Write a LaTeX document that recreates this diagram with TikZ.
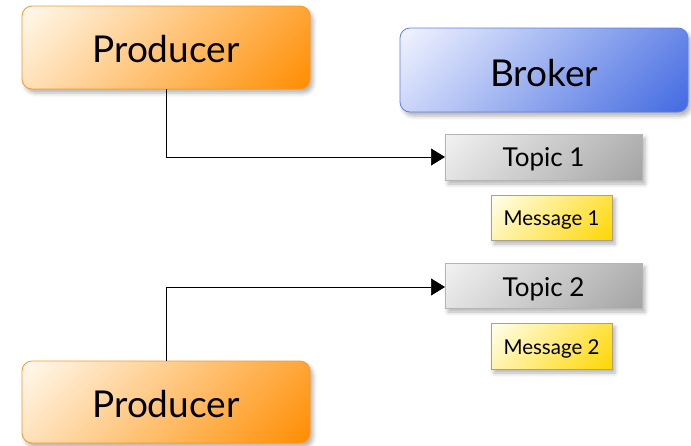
\documentclass[tikz,border=0pt]{standalone}
\usepackage{fontspec}
\setmainfont{Lato}
\usetikzlibrary{shadows.blur,arrows.meta}

\definecolor{prodline}{HTML}{F59A2A}
\definecolor{brokline}{HTML}{5F80E6}
\definecolor{topicline}{HTML}{B4B4B4}
\definecolor{msgline}{HTML}{A8A090}

% 45-degree gradients, light at the top left, full colour at the bottom
% right. Stack on entry: x y (bp); the box spans 25..75 in both; the
% weights on x and y follow the width and height of each kind of box.
\pgfdeclarefunctionalshading{prodshade}{\pgfpoint{0bp}{0bp}}{\pgfpoint{100bp}{100bp}}{}{
  75 exch sub 0.00448 mul exch 25 sub 0.01552 mul add
  dup 0 lt {pop 0} if dup 1 gt {pop 1} if
  dup 1 1 sub mul 1 add exch
  dup 0.55 0.98 sub mul 0.98 add exch
  0.0 0.94 sub mul 0.94 add
}
\pgfdeclarefunctionalshading{brokshade}{\pgfpoint{0bp}{0bp}}{\pgfpoint{100bp}{100bp}}{}{
  75 exch sub 0.00448 mul exch 25 sub 0.01552 mul add
  dup 0 lt {pop 0} if dup 1 gt {pop 1} if
  dup 0.255 0.95 sub mul 0.95 add exch
  dup 0.412 0.96 sub mul 0.96 add exch
  0.882 1.0 sub mul 1.0 add
}
\pgfdeclarefunctionalshading{topicshade}{\pgfpoint{0bp}{0bp}}{\pgfpoint{100bp}{100bp}}{}{
  75 exch sub 0.00378 mul exch 25 sub 0.01622 mul add
  dup 0 lt {pop 0} if dup 1 gt {pop 1} if
  dup 0.64 0.95 sub mul 0.95 add exch
  dup 0.64 0.95 sub mul 0.95 add exch
  0.64 0.95 sub mul 0.95 add
}
\pgfdeclarefunctionalshading{msgshade}{\pgfpoint{0bp}{0bp}}{\pgfpoint{100bp}{100bp}}{}{
  75 exch sub 0.00542 mul exch 25 sub 0.01458 mul add
  dup 0 lt {pop 0} if dup 1 gt {pop 1} if
  dup 1 1 sub mul 1 add exch
  dup 0.84 1 sub mul 1 add exch
  0.0 0.94 sub mul 0.94 add
}

\tikzset{
  boxshadow/.style={blur shadow={shadow xshift=3pt, shadow yshift=-4pt,
      shadow blur radius=4pt, shadow opacity=30}},
  producerbox/.style={draw=prodline, line width=0.8pt, rounded corners=10pt,
      shade, shading=prodshade, boxshadow},
  brokerbox/.style={draw=brokline, line width=0.8pt, rounded corners=10pt,
      shade, shading=brokshade, boxshadow},
  topicbox/.style={draw=topicline, line width=0.8pt,
      shade, shading=topicshade, boxshadow},
  msgbox/.style={draw=msgline, line width=0.8pt,
      shade, shading=msgshade, boxshadow},
  bigtext/.style={font=\fontsize{37}{40}\selectfont},
  topictext/.style={font=\fontsize{26}{30}\selectfont},
  msgtext/.style={font=\fontsize{20.5}{24}\selectfont},
  link/.style={draw=black, line width=0.7pt, -{Triangle[length=14pt,width=17pt]}},
}

\begin{document}
\begin{tikzpicture}[x=1pt,y=-1pt]
  \useasboundingbox (0,0) rectangle (691,445);

  % producers
  \path[producerbox] (22,6) rectangle (310,89);
  \node[bigtext] (prodA) at (166,49) {Producer};
  \coordinate (prodAbot) at (166,89);

  \path[producerbox] (22,361) rectangle (310,443);
  \node[bigtext] (prodB) at (166,404.5) {Producer};
  \coordinate (prodBtop) at (166,361);

  % broker with its topics and messages
  \path[brokerbox] (400,28) rectangle (688,112);
  \node[bigtext] (broker) at (544,72.5) {Broker};

  \path[topicbox] (445,134) rectangle (642,180);
  \node[topictext] (topicA) at (543.5,159) {Topic 1};
  \coordinate (topicAin) at (445,157);

  \path[msgbox] (491,195) rectangle (612,240);
  \node[msgtext] (msgA) at (551.5,220) {Message 1};

  \path[topicbox] (445,263) rectangle (642,308);
  \node[topictext] (topicB) at (543.5,289) {Topic 2};
  \coordinate (topicBin) at (445,287);

  \path[msgbox] (491,323) rectangle (612,369);
  \node[msgtext] (msgB) at (551.5,348.5) {Message 2};

  % connectors
  \draw[link] (prodAbot) |- (topicAin);
  \draw[link] (prodBtop) |- (topicBin);
\end{tikzpicture}
\end{document}
